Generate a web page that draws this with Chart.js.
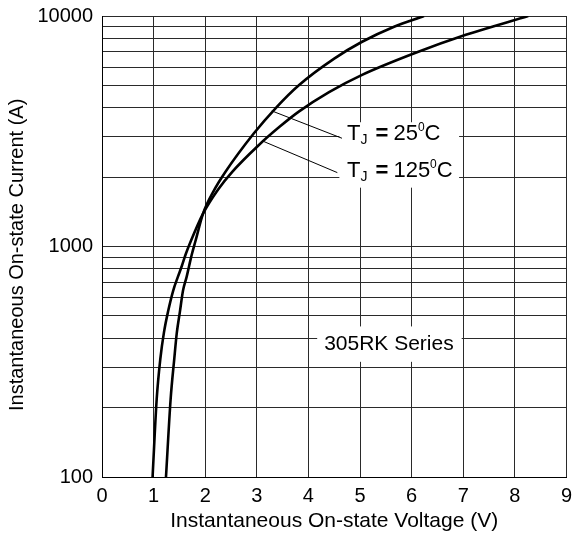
<!DOCTYPE html>
<html>
<head>
<meta charset="utf-8">
<script src="https://cdn.jsdelivr.net/npm/chart.js@4"></script>
<style>
html,body{margin:0;padding:0;background:#fff}
#wrap{position:relative;width:579px;height:534px}
</style>
</head>
<body>
<div id="wrap"><canvas id="c" width="579" height="534"></canvas></div>
<script>
// on-state characteristic
const volts25 = [1.24,1.33,1.40,1.45,1.51,1.57,1.64,1.69,1.74,1.81,1.96,2.16,2.39,2.94,3.38,3.82,4.50,5.04,5.66,6.24];
const amps25  = [100,218,325,423,522,644,738,827,923,1054,1392,1734,2104,3090,4018,5022,6535,7732,8985,10000];
const volts125 = [0.98,1.06,1.13,1.20,1.28,1.38,1.47,1.55,1.62,1.72,1.96,2.25,2.52,3.02,3.44,3.82,4.40,5.04,6.04,7.05,8.26];
const amps125  = [100,218,325,423,522,644,738,827,923,1054,1392,1769,2104,2730,3304,3855,4672,5551,6871,8284,10000];
const yGrid = [100,200,300,400,500,600,700,800,900,1000,2000,3000,4000,5000,6000,7000,8000,9000,10000];
const yLabels = [100,1000,10000];
const seriesName = '305RK Series';

const FONT = "'Liberation Sans', Arial, sans-serif";
const pts = (xs, ys) => xs.map((v, i) => ({x: v, y: ys[i]}));

const notes = {
  id: 'notes',
  beforeDatasetsDraw(chart) {
    const {ctx, scales: {x, y}} = chart;
    const px = v => x.getPixelForValue(v), py = v => y.getPixelForValue(v);
    ctx.save();
    ctx.fillStyle = '#fff';
    const box = (x0, y0, x1, y1) => ctx.fillRect(px(x0), py(y0), px(x1) - px(x0), py(y1) - py(y0));
    box(4.60, 3460, 6.92, 1800);
    box(4.17, 450, 6.97, 316);

    ctx.strokeStyle = '#000';
    ctx.lineWidth = 1;
    const seg = (a, b, c, d) => { ctx.beginPath(); ctx.moveTo(px(a), py(b)); ctx.lineTo(px(c), py(d)); ctx.stroke(); };
    seg(3.29, 3876, 4.65, 2949);
    seg(3.11, 2870, 4.56, 2092);

    ctx.fillStyle = '#000';
    ctx.textBaseline = 'middle';
    ctx.textAlign = 'left';
    const tj = (xv, yv, t) => {
      let cx = px(xv); const cy = py(yv);
      ctx.font = '22px ' + FONT; ctx.fillText('T', cx, cy); cx += ctx.measureText('T').width;
      ctx.font = '14px ' + FONT; ctx.fillText('J', cx, cy + 6); cx += ctx.measureText('J').width + 8;
      ctx.font = 'bold 22px ' + FONT; ctx.fillText('=', cx, cy); cx += ctx.measureText('=').width + 5;
      ctx.font = '22px ' + FONT; ctx.fillText(t, cx, cy); cx += ctx.measureText(t).width;
      ctx.font = '12px ' + FONT; ctx.fillText('0', cx, cy - 7); cx += ctx.measureText('0').width;
      ctx.font = '22px ' + FONT; ctx.fillText('C', cx, cy);
    };
    tj(4.75, 3069, '25');
    tj(4.75, 2118, '125');

    ctx.font = '21px ' + FONT;
    ctx.textAlign = 'center';
    ctx.fillText(seriesName, px(5.56), py(375));
    ctx.restore();
  }
};

const curve = (label, data) => ({
  label, data,
  borderColor: '#000', borderWidth: 2.6,
  pointRadius: 0, cubicInterpolationMode: 'monotone', fill: false
});

new Chart(document.getElementById('c'), {
  type: 'scatter',
  data: {
    datasets: [
      curve('TJ = 25°C', pts(volts25, amps25)),
      curve('TJ = 125°C', pts(volts125, amps125))
    ]
  },
  options: {
    responsive: false,
    animation: false,
    showLine: true,
    layout: {padding: {top: 16, right: 11, left: 0, bottom: 0}},
    plugins: {legend: {display: false}, tooltip: {enabled: false}},
    scales: {
      x: {
        type: 'linear', min: 0, max: 9,
        afterFit: s => { s.height = 57; },
        ticks: {stepSize: 1, padding: 7, autoSkip: false, color: '#000', font: {family: FONT, size: 20}},
        grid: {color: '#2a2a2a', lineWidth: 1, drawTicks: false},
        border: {color: '#000', width: 1},
        title: {display: true, text: 'Instantaneous On-state Voltage (V)', color: '#000',
                font: {family: FONT, size: 21, lineHeight: 1.2}, padding: {top: 0, bottom: 0}}
      },
      y: {
        type: 'logarithmic', min: 100, max: 10000,
        afterFit: s => { s.width = 102; s.paddingTop = 0; s.paddingBottom = 0; },
        afterBuildTicks: s => { s.ticks = yGrid.map(v => ({value: v})); },
        ticks: {
          padding: 9, autoSkip: false, color: '#000', font: {family: FONT, size: 20},
          callback: v => yLabels.includes(v) ? String(v) : ''
        },
        grid: {color: '#2a2a2a', lineWidth: 1, drawTicks: false},
        border: {color: '#000', width: 1},
        title: {display: true, text: 'Instantaneous On-state Current (A)   ', color: '#000',
                font: {family: FONT, size: 20, lineHeight: 1.2}, padding: {top: 5, bottom: 0}}
      }
    }
  },
  plugins: [notes]
});
</script>
</body>
</html>
